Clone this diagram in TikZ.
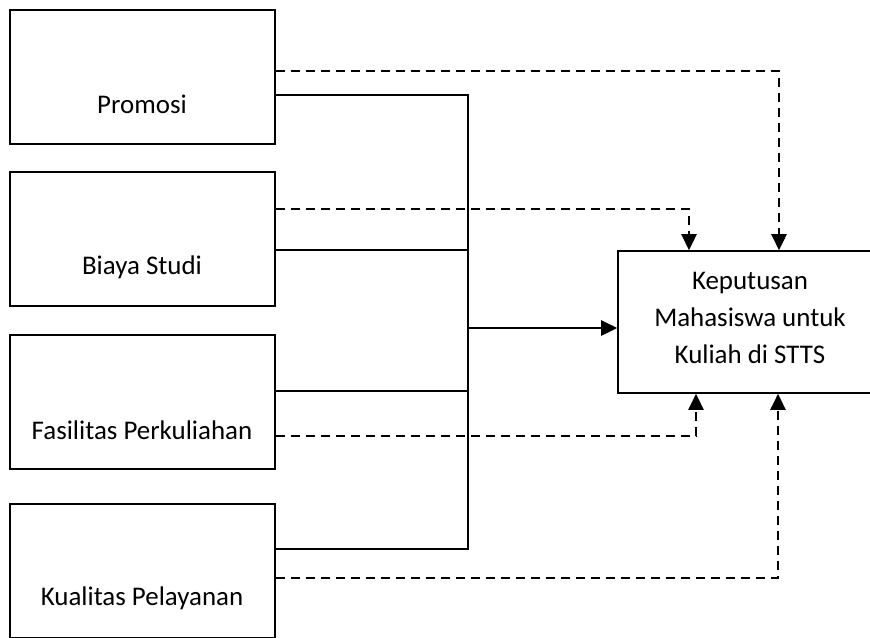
\documentclass[tikz,border=0pt]{standalone}
\usepackage{fontspec}
\setmainfont{Carlito}
\usetikzlibrary{arrows.meta}

\begin{document}
\begin{tikzpicture}[x=0.75pt,y=-0.75pt,
  box/.style={draw,line width=1.3pt,minimum width=198.75pt,minimum height=100.5pt,inner sep=0pt},
  txt/.style={font=\fontsize{20.2}{27.75}\selectfont,align=center,inner sep=0pt},
  link/.style={line width=1.3pt},
  dlink/.style={line width=1.3pt,dash pattern=on 6.75pt off 4.5pt},
  tip/.style={-{Triangle[width=11.5pt,length=12pt]}}]
	\clip (0,0) rectangle (870,637);
	% factor boxes
	\node[box] (promosi) at (142.5,77) {};
	\node[box] (biaya) at (142.5,239) {};
	\node[box] (fasilitas) at (142.5,402) {};
	\node[box] (kualitas) at (142.5,571) {};
	\node[txt] (tpromosi) at (142,104) {Promosi};
	\node[txt] (tbiaya) at (142,267) {Biaya Studi};
	\node[txt] (tfasilitas) at (142,430) {Fasilitas Perkuliahan};
	\node[txt] (tkualitas) at (142,598) {Kualitas Pelayanan};
	% decision box
	\node[box,minimum height=106.5pt] (keputusan) at (750.5,322) {};
	\node[txt] (tkeputusan) at (750,318) {Keputusan\\Mahasiswa untuk\\Kuliah di STTS};
	% solid (simultaneous) lines
	\coordinate (jtop) at (468,95);
	\coordinate (jbiaya) at (468,250);
	\coordinate (jmid) at (468,328);
	\coordinate (jfasilitas) at (468,391);
	\coordinate (jbot) at (468,549);
	\draw[link] (promosi.east |- jtop) -- (jtop) -- (jbot) -- (kualitas.east |- jbot);
	\draw[link] (biaya.east |- jbiaya) -- (jbiaya);
	\draw[link] (fasilitas.east |- jfasilitas) -- (jfasilitas);
	\draw[link,tip] (jmid) -- (keputusan.west |- jmid);
	% dashed (partial) lines
	\coordinate (dpromosi) at (779,71);
	\coordinate (dbiaya) at (689,209);
	\coordinate (dfasilitas) at (696,436);
	\coordinate (dkualitas) at (778,578);
	\draw[dlink,tip] (promosi.east |- dpromosi) -| (keputusan.north -| dpromosi);
	\draw[dlink,tip] (biaya.east |- dbiaya) -| (keputusan.north -| dbiaya);
	\draw[dlink,tip] (fasilitas.east |- dfasilitas) -| (keputusan.south -| dfasilitas);
	\draw[dlink,tip] (kualitas.east |- dkualitas) -| (keputusan.south -| dkualitas);
\end{tikzpicture}
\end{document}
